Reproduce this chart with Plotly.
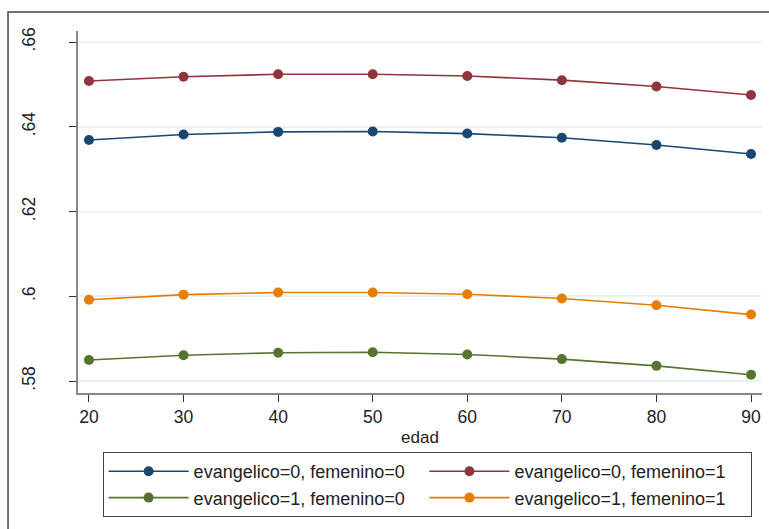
import plotly.graph_objects as go

# Predicted margins by age (edad) for each evangelico x femenino group
edad = [20, 30, 40, 50, 60, 70, 80, 90]
ev0_fem0 = [0.6369, 0.6382, 0.6388, 0.6389, 0.6384, 0.6374, 0.6357, 0.6336]
ev0_fem1 = [0.6508, 0.6518, 0.6524, 0.6524, 0.6520, 0.6510, 0.6495, 0.6475]
ev1_fem0 = [0.5850, 0.5861, 0.5867, 0.5868, 0.5863, 0.5852, 0.5836, 0.5815]
ev1_fem1 = [0.5992, 0.6004, 0.6009, 0.6009, 0.6005, 0.5995, 0.5979, 0.5957]

series = [
    ("evangelico=0, femenino=0", ev0_fem0, "rgb(26,71,111)"),
    ("evangelico=0, femenino=1", ev0_fem1, "rgb(144,53,59)"),
    ("evangelico=1, femenino=0", ev1_fem0, "rgb(85,117,47)"),
    ("evangelico=1, femenino=1", ev1_fem1, "rgb(227,126,0)"),
]

y_ticks = [0.58, 0.60, 0.62, 0.64, 0.66]
y_labels = [".58", ".6", ".62", ".64", ".66"]
x_ticks = [20, 30, 40, 50, 60, 70, 80, 90]

FONT = "Liberation Sans, Arial, sans-serif"

fig = go.Figure()
for name, vals, color in series:
    fig.add_trace(go.Scatter(
        x=edad, y=vals, name=name, mode="lines+markers",
        line=dict(color=color, width=1.6),
        marker=dict(color=color, size=10),
    ))

fig.update_layout(
    width=769, height=529,
    margin=dict(l=78, r=7, t=31, b=136),
    paper_bgcolor="white", plot_bgcolor="white",
    font=dict(family=FONT, size=17, color="#222"),
    showlegend=True,
    legend=dict(
        orientation="h",
        x=0.036, xanchor="left",
        y=-0.163, yanchor="top",
        traceorder="normal",
        entrywidth=0.469, entrywidthmode="fraction",
        bordercolor="#444", borderwidth=1,
        font=dict(family=FONT, size=18, color="#222"),
        itemwidth=80,
        tracegroupgap=0,
    ),
    xaxis=dict(
        range=[18.84, 91.16],
        tickmode="array", tickvals=x_ticks,
        ticks="outside", ticklen=7, tickcolor="#333", tickwidth=1,
        showline=True, linecolor="#888", linewidth=1.5,
        showgrid=False, zeroline=False,
        tickfont=dict(size=17.5),
        title=dict(text="edad", font=dict(size=17), standoff=5),
    ),
    yaxis=dict(
        range=[0.5772, 0.6626],
        tickmode="array", tickvals=y_ticks, ticktext=y_labels,
        tickangle=-90,
        ticks="outside", ticklen=7, tickcolor="#333", tickwidth=1,
        ticklabelstandoff=27,
        showline=True, linecolor="#888", linewidth=1.5,
        showgrid=True, gridcolor="rgb(234,242,243)", gridwidth=1.5,
        zeroline=False,
        tickfont=dict(size=17.5),
    ),
)

# Outer graph-region frame
fig.add_shape(
    type="rect", xref="paper", yref="paper",
    x0=-0.1023, x1=1.5, y0=-1.0, y1=1.0525,
    line=dict(color="#444", width=1.5), fillcolor="rgba(0,0,0,0)",
    layer="below",
)

fig.write_html("out.html")
